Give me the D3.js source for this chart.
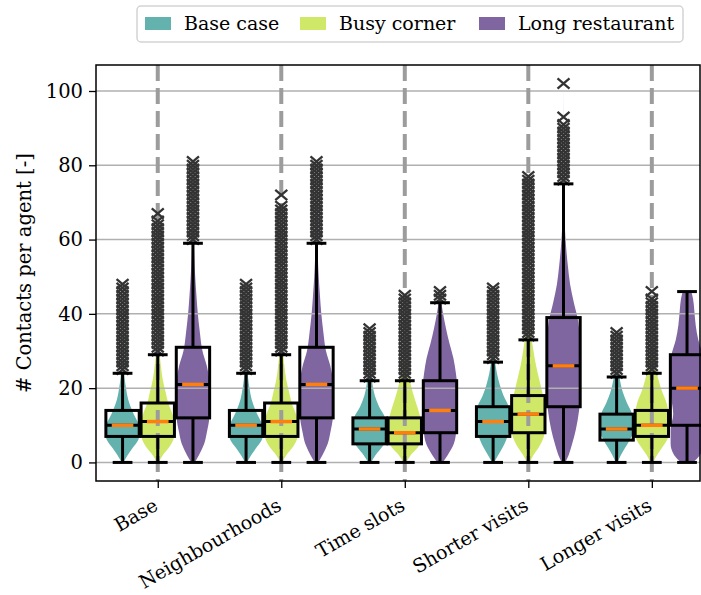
<!DOCTYPE html>
<html>
<head>
<meta charset="utf-8">
<script src="https://cdn.jsdelivr.net/npm/d3@7"></script>
<style>
  body { margin: 0; background: #fff; }
  svg text { font-family: "DejaVu Serif", serif; fill: #000; }
</style>
</head>
<body>
<div id="chart"></div>
<script>
// Contacts per agent: violins + boxplots per scenario
const groups = ["Base", "Neighbourhoods", "Time slots", "Shorter visits", "Longer visits"];
const scenarios = ["Base case", "Busy corner", "Long restaurant"];
const yTicks = [0, 20, 40, 60, 80, 100];

// box stats per group, one array per scenario
const baseQ1 = [7, 7, 5, 7, 6];
const baseMed = [10, 10, 9, 11, 9];
const baseQ3 = [14, 14, 12, 15, 13];
const baseWhisk = [24, 24, 22, 27, 23];
const baseFlierTop = [48, 48, 36, 47, 35];
const baseFlierExtra = [[], [], [], [], []];

const busyQ1 = [7, 7, 5, 8, 7];
const busyMed = [11, 11, 8, 13, 10];
const busyQ3 = [16, 16, 12, 18, 14];
const busyWhisk = [29, 29, 22, 33, 24];
const busyFlierTop = [65, 69, 45, 76, 44];
const busyFlierExtra = [[67], [72], [], [77], [46]];

const longQ1 = [12, 12, 8, 15, 10];
const longMed = [21, 21, 14, 26, 20];
const longQ3 = [31, 31, 22, 39, 29];
const longWhisk = [59, 59, 43, 75, 46];
const longFlierTop = [81, 81, 46, 91, null];
const longFlierExtra = [[], [], [], [93, 102], []];

// violin outlines: [value, relative width]
const baseViolin = [
  [[0,.05],[2,.3],[4,.6],[6,.9],[8,1],[10,.95],[12,.75],[14,.55],[17,.32],[20,.2],[23,.11],[27,.06],[32,.03],[40,.01],[48,0]],
  [[0,.05],[2,.3],[4,.6],[6,.9],[8,1],[10,.95],[12,.75],[14,.55],[17,.32],[20,.2],[23,.11],[27,.06],[32,.03],[40,.01],[48,0]],
  [[0,.08],[2,.35],[4,.7],[6,.95],[9,1],[12,.9],[15,.55],[18,.3],[21,.17],[25,.08],[30,.03],[36,0]],
  [[0,.05],[2,.3],[4,.55],[6,.75],[9,.95],[12,1],[15,.9],[18,.6],[21,.38],[24,.22],[28,.1],[34,.04],[40,.015],[47,0]],
  [[0,.05],[2,.25],[4,.5],[6,.75],[8,.95],[10,1],[13,.9],[16,.6],[19,.35],[22,.2],[26,.08],[30,.03],[35,0]]
];
const busyViolin = [
  [[0,.05],[2,.3],[4,.65],[7,.95],[10,1],[13,.85],[16,.6],[19,.45],[22,.3],[26,.18],[30,.1],[40,.04],[55,.015],[67,0]],
  [[0,.05],[2,.3],[4,.65],[7,.95],[10,1],[13,.85],[16,.6],[19,.45],[22,.3],[26,.18],[30,.1],[40,.04],[55,.015],[72,0]],
  [[0,.08],[2,.35],[4,.75],[7,1],[10,.98],[13,.85],[16,.65],[19,.45],[22,.3],[26,.15],[32,.06],[40,.02],[45,0]],
  [[0,.08],[2,.3],[4,.6],[7,.9],[10,1],[14,1],[18,.85],[22,.65],[26,.45],[30,.3],[34,.18],[40,.08],[50,.03],[65,.01],[77,0]],
  [[0,.08],[2,.3],[4,.6],[7,.95],[10,1],[13,.97],[16,.85],[19,.6],[22,.4],[25,.25],[29,.12],[35,.04],[46,0]]
];
const longViolin = [
  [[0,.1],[2,.35],[5,.65],[8,.8],[12,.95],[17,1],[22,.95],[26,.8],[30,.55],[35,.4],[40,.28],[45,.2],[50,.13],[55,.08],[60,.05],[70,.02],[81,0]],
  [[0,.1],[2,.35],[5,.65],[8,.8],[12,.95],[17,1],[22,.95],[26,.8],[30,.55],[35,.4],[40,.28],[45,.2],[50,.13],[55,.08],[60,.05],[70,.02],[81,0]],
  [[0,.15],[2,.45],[5,.8],[9,.95],[14,1],[20,1],[24,.92],[28,.78],[32,.55],[36,.35],[40,.18],[43,.08],[46,0]],
  [[0,.1],[2,.3],[5,.5],[9,.72],[14,.9],[20,1],[26,1],[32,.95],[38,.85],[43,.6],[48,.38],[53,.25],[58,.15],[64,.07],[70,.03],[80,.01],[102,0]],
  [[0,.35],[2,.75],[5,.95],[9,.95],[13,.8],[17,.9],[21,1],[25,1],[29,.9],[33,.65],[37,.5],[41,.42],[44,.35],[46,.25]]
];

const colors = ["#63b2ae", "#d0e867", "#7f66a0"];

const width = 701, height = 595;
const margin = {left: 96, right: 1, top: 65, bottom: 114};

const x = d3.scaleLinear().domain([-0.5, 4.39]).range([margin.left, width - margin.right]);
const y = d3.scaleLinear().domain([-5, 107]).range([height - margin.bottom, margin.top]);

const offsets = [-0.285, 0, 0.285];
const boxW = 0.27, violinW = 0.28, capW = 0.16, medW = 0.175;

// flatten into one record per box
const stats = [
  {q1: baseQ1, med: baseMed, q3: baseQ3, wh: baseWhisk, ft: baseFlierTop, fx: baseFlierExtra, v: baseViolin},
  {q1: busyQ1, med: busyMed, q3: busyQ3, wh: busyWhisk, ft: busyFlierTop, fx: busyFlierExtra, v: busyViolin},
  {q1: longQ1, med: longMed, q3: longQ3, wh: longWhisk, ft: longFlierTop, fx: longFlierExtra, v: longViolin}
];
const boxes = [];
groups.forEach((g, gi) => {
  stats.forEach((s, si) => {
    const fliers = s.ft[gi] == null ? [] : d3.range(s.wh[gi] + 1, s.ft[gi] + 1);
    boxes.push({
      gi, si, cx: gi + offsets[si],
      q1: s.q1[gi], med: s.med[gi], q3: s.q3[gi], lo: 0, hi: s.wh[gi],
      fliers: fliers.concat(s.fx[gi]), violin: s.v[gi]
    });
  });
});

const svg = d3.select("#chart").append("svg")
  .attr("width", width).attr("height", height);

const plot = svg.append("g");

// violins
const area = d3.area()
  .curve(d3.curveMonotoneY)
  .y(d => y(d[0]));
plot.selectAll("path.violin")
  .data(boxes)
  .enter().append("path")
  .attr("class", "violin")
  .attr("fill", d => colors[d.si])
  .attr("d", d => area
    .x0(p => x(d.cx - p[1] * violinW / 2))
    .x1(p => x(d.cx + p[1] * violinW / 2))(d.violin));

// grid
plot.selectAll("line.hgrid")
  .data(yTicks)
  .enter().append("line")
  .attr("x1", margin.left).attr("x2", width - margin.right)
  .attr("y1", d => y(d)).attr("y2", d => y(d))
  .attr("stroke", "#b0b0b0").attr("stroke-width", 1.5);

plot.selectAll("line.vgrid")
  .data(groups)
  .enter().append("line")
  .attr("x1", (d, i) => x(i)).attr("x2", (d, i) => x(i))
  .attr("y1", margin.top).attr("y2", height - margin.bottom)
  .attr("stroke", "#9c9c9c").attr("stroke-width", 4)
  .attr("stroke-dasharray", "16 7");

// fliers
const xMark = 6;
const fl = plot.selectAll("g.fliers")
  .data(boxes)
  .enter().append("g");
fl.selectAll("path")
  .data(d => d.fliers.map(v => ({cx: d.cx, v})))
  .enter().append("path")
  .attr("d", p => {
    const px = x(p.cx), py = y(p.v);
    return `M${px - xMark},${py - xMark * 0.85}L${px + xMark},${py + xMark * 0.85}M${px - xMark},${py + xMark * 0.85}L${px + xMark},${py - xMark * 0.85}`;
  })
  .attr("stroke", "#333").attr("stroke-width", 2.3).attr("fill", "none");

// whiskers and caps
const bx = plot.selectAll("g.box")
  .data(boxes)
  .enter().append("g")
  .attr("stroke", "#000").attr("stroke-width", 3).attr("fill", "none");

bx.append("line")
  .attr("x1", d => x(d.cx)).attr("x2", d => x(d.cx))
  .attr("y1", d => y(d.q3)).attr("y2", d => y(d.hi));
bx.append("line")
  .attr("x1", d => x(d.cx)).attr("x2", d => x(d.cx))
  .attr("y1", d => y(d.q1)).attr("y2", d => y(d.lo));
bx.append("line")
  .attr("x1", d => x(d.cx - capW / 2)).attr("x2", d => x(d.cx + capW / 2))
  .attr("y1", d => y(d.hi)).attr("y2", d => y(d.hi));
bx.append("line")
  .attr("x1", d => x(d.cx - capW / 2)).attr("x2", d => x(d.cx + capW / 2))
  .attr("y1", d => y(d.lo)).attr("y2", d => y(d.lo));
bx.append("rect")
  .attr("x", d => x(d.cx - boxW / 2))
  .attr("width", x(boxW) - x(0))
  .attr("y", d => y(d.q3))
  .attr("height", d => y(d.q1) - y(d.q3));
bx.append("line")
  .attr("x1", d => x(d.cx - boxW / 2)).attr("x2", d => x(d.cx + boxW / 2))
  .attr("y1", d => y(d.med)).attr("y2", d => y(d.med));

// medians
plot.selectAll("line.median")
  .data(boxes)
  .enter().append("line")
  .attr("x1", d => x(d.cx - medW / 2)).attr("x2", d => x(d.cx + medW / 2))
  .attr("y1", d => y(d.med)).attr("y2", d => y(d.med))
  .attr("stroke", "#ff7f0e").attr("stroke-width", 3.5);

// frame
svg.append("rect")
  .attr("x", margin.left).attr("y", margin.top)
  .attr("width", width - margin.right - margin.left)
  .attr("height", height - margin.bottom - margin.top)
  .attr("fill", "none").attr("stroke", "#000").attr("stroke-width", 1.5);

// y axis
const yAxis = svg.append("g")
  .attr("transform", `translate(${margin.left},0)`)
  .call(d3.axisLeft(y).tickValues(yTicks).tickSize(7).tickPadding(6));
yAxis.select(".domain").remove();
yAxis.selectAll("line").attr("stroke-width", 1.3);
yAxis.selectAll("text").attr("font-size", 19.5).attr("font-family", "DejaVu Serif");

// x axis
const xAxis = svg.append("g")
  .attr("transform", `translate(0,${height - margin.bottom})`)
  .call(d3.axisBottom(x).tickValues(d3.range(groups.length)).tickSize(7).tickFormat(i => groups[i]));
xAxis.select(".domain").remove();
xAxis.selectAll("line").attr("stroke-width", 1.3);
xAxis.selectAll("text")
  .attr("font-size", 19)
  .attr("font-family", "DejaVu Serif")
  .attr("text-anchor", "end")
  .attr("dy", null).attr("y", 0)
  .attr("transform", "translate(1,28) rotate(-30)");

// y label
svg.append("text")
  .attr("transform", `translate(31,${(margin.top + height - margin.bottom) / 2}) rotate(-90)`)
  .attr("text-anchor", "middle")
  .attr("font-size", 19.5)
  .text("# Contacts per agent [-]");

// legend
const legend = svg.append("g");
legend.append("rect")
  .attr("x", 137).attr("y", 6).attr("width", 546).attr("height", 36).attr("rx", 4)
  .attr("fill", "#fff").attr("stroke", "#d3d3d3").attr("stroke-width", 1.5);
const legX = [145, 300, 479];
scenarios.forEach((s, i) => {
  legend.append("rect")
    .attr("x", legX[i]).attr("y", 17).attr("width", 26).attr("height", 13)
    .attr("fill", colors[i]);
  legend.append("text")
    .attr("x", legX[i] + 39).attr("y", 30)
    .attr("font-size", 19)
    .text(s);
});
</script>
</body>
</html>
